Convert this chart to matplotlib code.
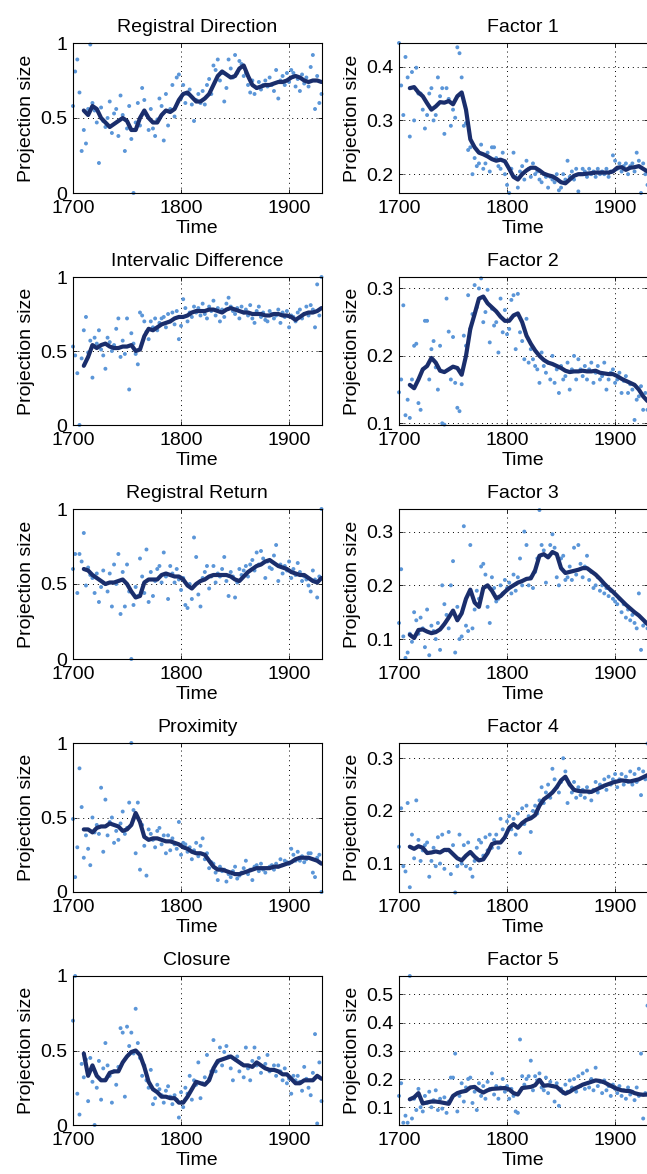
import numpy as np
import matplotlib
matplotlib.use("Agg")
import matplotlib.pyplot as plt
from matplotlib.ticker import FormatStrFormatter

# scatter values: one every 2 years, 1700..1930
# smoothed line: one every 4 years, 1710..1930
regdir_pts = [0.58, 0.81, 0.89, 0.67, 0.28, 0.42, 0.33, 0.56, 0.99, 0.60,
              0.55, 0.47, 0.20, 0.57, 0.48, 0.44, 0.50, 0.61, 0.40, 0.53,
              0.56, 0.38, 0.65, 0.52, 0.28, 0.43, 0.58, 0.36, 0.00, 0.47,
              0.60, 0.45, 0.70, 0.62, 0.52, 0.42, 0.56, 0.43, 0.38, 0.49,
              0.63, 0.58, 0.35, 0.66, 0.45, 0.56, 0.72, 0.51, 0.77, 0.79,
              0.63, 0.72, 0.60, 0.66, 0.69, 0.59, 0.48, 0.62, 0.66, 0.60,
              0.68, 0.59, 0.72, 0.76, 0.66, 0.85, 0.82, 0.89, 0.75, 0.80,
              0.61, 0.70, 0.89, 0.83, 0.77, 0.92, 0.80, 0.88, 0.86, 0.78,
              0.80, 0.72, 0.67, 0.75, 0.66, 0.70, 0.74, 0.69, 0.72, 0.75,
              0.71, 0.77, 0.72, 0.68, 0.82, 0.63, 0.75, 0.78, 0.72, 0.80,
              0.74, 0.82, 0.80, 0.71, 0.76, 0.68, 0.79, 0.73, 0.77, 0.71,
              0.84, 0.92, 0.56, 0.78, 0.60, 0.66]
regdir_line = [0.55, 0.52, 0.58, 0.56, 0.50, 0.47, 0.44, 0.46, 0.48, 0.50,
               0.48, 0.42, 0.42, 0.50, 0.55, 0.50, 0.47, 0.47, 0.52, 0.55,
               0.54, 0.56, 0.62, 0.66, 0.67, 0.64, 0.61, 0.61, 0.63, 0.66,
               0.72, 0.78, 0.81, 0.79, 0.77, 0.78, 0.83, 0.85, 0.78, 0.72,
               0.70, 0.71, 0.72, 0.72, 0.73, 0.74, 0.74, 0.75, 0.77, 0.78,
               0.77, 0.75, 0.74, 0.75, 0.75, 0.74]

intdiff_pts = [0.53, 0.47, 0.35, 0.00, 0.45, 0.64, 0.73, 0.49, 0.57, 0.32,
               0.59, 0.55, 0.64, 0.51, 0.47, 0.38, 0.59, 0.56, 0.50, 0.54,
               0.65, 0.72, 0.46, 0.57, 0.48, 0.72, 0.24, 0.62, 0.55, 0.48,
               0.41, 0.76, 0.74, 0.70, 0.63, 0.58, 0.70, 0.66, 0.72, 0.64,
               0.69, 0.72, 0.73, 0.66, 0.75, 0.70, 0.76, 0.68, 0.77, 0.58,
               0.67, 0.85, 0.79, 0.70, 0.76, 0.73, 0.80, 0.76, 0.79, 0.74,
               0.82, 0.75, 0.72, 0.80, 0.77, 0.84, 0.74, 0.79, 0.70, 0.78,
               0.73, 0.82, 0.86, 0.80, 0.77, 0.75, 0.79, 0.72, 0.80, 0.76,
               0.78, 0.74, 0.81, 0.72, 0.69, 0.77, 0.80, 0.73, 0.76, 0.71,
               0.70, 0.77, 0.75, 0.72, 0.74, 0.78, 0.69, 0.76, 0.73, 0.77,
               0.66, 0.74, 0.73, 0.70, 0.76, 0.78, 0.72, 0.75, 0.80, 0.74,
               0.81, 0.78, 0.66, 0.95, 0.74, 1.00]
intdiff_line = [0.40, 0.46, 0.54, 0.52, 0.54, 0.55, 0.53, 0.52, 0.52, 0.53,
                0.53, 0.54, 0.50, 0.51, 0.60, 0.65, 0.64, 0.66, 0.68, 0.69,
                0.70, 0.72, 0.73, 0.73, 0.74, 0.76, 0.77, 0.77, 0.77, 0.78,
                0.78, 0.77, 0.76, 0.78, 0.79, 0.78, 0.77, 0.76, 0.76, 0.75,
                0.75, 0.75, 0.74, 0.74, 0.75, 0.75, 0.74, 0.74, 0.73, 0.71,
                0.73, 0.75, 0.76, 0.76, 0.77, 0.79]

regret_pts = [0.60, 0.70, 0.44, 0.70, 0.65, 0.84, 0.49, 0.61, 0.56, 0.54,
              0.44, 0.57, 0.38, 0.48, 0.59, 0.50, 0.45, 0.57, 0.35, 0.63,
              0.50, 0.70, 0.30, 0.58, 0.35, 0.63, 0.45, 0.00, 0.36, 0.48,
              0.42, 0.67, 0.55, 0.44, 0.73, 0.38, 0.58, 0.42, 0.52, 0.60,
              0.62, 0.51, 0.71, 0.55, 0.40, 0.62, 0.57, 0.51, 0.60, 0.53,
              0.46, 0.54, 0.36, 0.34, 0.50, 0.40, 0.81, 0.68, 0.43, 0.35,
              0.54, 0.58, 0.62, 0.47, 0.55, 0.62, 0.51, 0.57, 0.55, 0.60,
              0.68, 0.52, 0.42, 0.58, 0.55, 0.41, 0.51, 0.60, 0.56, 0.59,
              0.62, 0.55, 0.63, 0.66, 0.59, 0.71, 0.63, 0.72, 0.67, 0.54,
              0.65, 0.61, 0.60, 0.69, 0.76, 0.52, 0.63, 0.57, 0.62, 0.59,
              0.65, 0.54, 0.60, 0.56, 0.64, 0.58, 0.52, 0.55, 0.53, 0.49,
              0.45, 0.59, 0.53, 0.41, 0.55, 1.00]
regret_line = [0.60, 0.59, 0.56, 0.54, 0.52, 0.50, 0.51, 0.51, 0.52, 0.53,
               0.50, 0.45, 0.41, 0.42, 0.51, 0.53, 0.53, 0.53, 0.56, 0.57,
               0.56, 0.55, 0.55, 0.53, 0.49, 0.47, 0.50, 0.52, 0.53, 0.55,
               0.56, 0.56, 0.56, 0.56, 0.55, 0.53, 0.52, 0.55, 0.58, 0.60,
               0.62, 0.63, 0.65, 0.66, 0.64, 0.62, 0.61, 0.60, 0.58, 0.57,
               0.56, 0.56, 0.54, 0.52, 0.51, 0.54]

prox_pts = [0.49, 0.10, 0.30, 0.83, 0.57, 0.23, 0.38, 0.29, 0.18, 0.50,
            0.40, 0.45, 0.39, 0.70, 0.27, 0.62, 0.38, 0.47, 0.50, 0.33,
            0.41, 0.35, 0.46, 0.54, 0.39, 0.43, 0.60, 1.00, 0.55, 0.26,
            0.60, 0.15, 0.45, 0.31, 0.11, 0.42, 0.39, 0.35, 0.30, 0.41,
            0.43, 0.32, 0.38, 0.26, 0.38, 0.28, 0.36, 0.32, 0.29, 0.47,
            0.25, 0.33, 0.32, 0.27, 0.30, 0.22, 0.28, 0.33, 0.24, 0.31,
            0.36, 0.22, 0.26, 0.16, 0.20, 0.19, 0.13, 0.08, 0.17, 0.14,
            0.15, 0.07, 0.12, 0.10, 0.14, 0.17, 0.09, 0.11, 0.13, 0.16,
            0.21, 0.12, 0.15, 0.08, 0.17, 0.18, 0.14, 0.19, 0.15, 0.13,
            0.16, 0.17, 0.18, 0.15, 0.19, 0.17, 0.22, 0.18, 0.21, 0.20,
            0.19, 0.29, 0.25, 0.21, 0.27, 0.21, 0.24, 0.20, 0.22, 0.26,
            0.26, 0.13, 0.10, 0.23, 0.25, 0.00]
prox_line = [0.42, 0.42, 0.40, 0.43, 0.44, 0.44, 0.46, 0.45, 0.44, 0.41,
             0.42, 0.45, 0.53, 0.47, 0.37, 0.35, 0.36, 0.36, 0.35, 0.34,
             0.34, 0.33, 0.32, 0.30, 0.29, 0.27, 0.26, 0.26, 0.25, 0.21,
             0.17, 0.15, 0.15, 0.14, 0.13, 0.12, 0.12, 0.13, 0.14, 0.15,
             0.16, 0.16, 0.16, 0.16, 0.17, 0.17, 0.18, 0.19, 0.20, 0.22,
             0.23, 0.23, 0.23, 0.22, 0.21, 0.19]

closure_pts = [0.70, 1.00, 0.21, 0.07, 0.41, 0.32, 0.44, 0.16, 0.45, 0.29,
               0.00, 0.25, 0.43, 0.17, 0.38, 0.55, 0.40, 0.33, 0.15, 0.36,
               0.27, 0.39, 0.65, 0.62, 0.19, 0.66, 0.53, 0.62, 0.48, 0.78,
               0.55, 0.45, 0.33, 0.40, 0.30, 0.25, 0.37, 0.14, 0.18, 0.27,
               0.24, 0.20, 0.15, 0.23, 0.26, 0.19, 0.14, 0.20, 0.17, 0.05,
               0.22, 0.12, 0.25, 0.21, 0.33, 0.17, 0.30, 0.27, 0.42, 0.18,
               0.28, 0.32, 0.47, 0.31, 0.36, 0.57, 0.36, 0.42, 0.52, 0.40,
               0.49, 0.53, 0.46, 0.38, 0.30, 0.44, 0.46, 0.36, 0.41, 0.32,
               0.52, 0.38, 0.30, 0.43, 0.52, 0.40, 0.45, 0.35, 0.39, 0.41,
               0.47, 0.36, 0.37, 0.40, 0.33, 0.40, 0.36, 0.30, 0.38, 0.28,
               0.31, 0.21, 0.33, 0.30, 0.33, 0.29, 0.23, 0.39, 0.31, 0.25,
               0.20, 0.35, 0.61, 0.01, 0.42, 0.16]
closure_line = [0.48, 0.33, 0.40, 0.33, 0.30, 0.30, 0.35, 0.36, 0.36, 0.42,
                0.46, 0.49, 0.50, 0.47, 0.39, 0.29, 0.24, 0.22, 0.19, 0.19,
                0.18, 0.18, 0.15, 0.15, 0.19, 0.24, 0.29, 0.28, 0.27, 0.30,
                0.38, 0.43, 0.44, 0.45, 0.46, 0.44, 0.42, 0.40, 0.40, 0.39,
                0.42, 0.40, 0.38, 0.37, 0.37, 0.36, 0.34, 0.34, 0.31, 0.28,
                0.28, 0.30, 0.30, 0.30, 0.33, 0.31]

f1_pts = [0.444, 0.365, 0.31, 0.418, 0.38, 0.27, 0.39, 0.30, 0.398, 0.35,
          0.35, 0.32, 0.285, 0.31, 0.35, 0.36, 0.30, 0.31, 0.38, 0.345,
          0.36, 0.275, 0.36, 0.34, 0.29, 0.32, 0.305, 0.436, 0.425, 0.38,
          0.29, 0.295, 0.245, 0.25, 0.20, 0.23, 0.215, 0.22, 0.255, 0.21,
          0.22, 0.24, 0.205, 0.25, 0.25, 0.23, 0.215, 0.21, 0.24, 0.20,
          0.18, 0.165, 0.21, 0.24, 0.195, 0.175, 0.205, 0.215, 0.19, 0.225,
          0.21, 0.195, 0.22, 0.20, 0.205, 0.19, 0.185, 0.20, 0.195, 0.175,
          0.195, 0.19, 0.185, 0.20, 0.17, 0.175, 0.20, 0.19, 0.225, 0.195,
          0.205, 0.19, 0.21, 0.168, 0.20, 0.21, 0.205, 0.195, 0.21, 0.20,
          0.205, 0.195, 0.21, 0.20, 0.205, 0.20, 0.21, 0.195, 0.205, 0.235,
          0.225, 0.21, 0.22, 0.205, 0.215, 0.22, 0.20, 0.215, 0.22, 0.205,
          0.24, 0.225, 0.165, 0.22, 0.20, 0.18]
f1_line = [0.360, 0.362, 0.352, 0.345, 0.332, 0.320, 0.326, 0.334, 0.333, 0.336,
           0.330, 0.345, 0.352, 0.320, 0.265, 0.250, 0.240, 0.237, 0.233, 0.228,
           0.225, 0.227, 0.224, 0.210, 0.195, 0.190, 0.200, 0.207, 0.212, 0.212,
           0.207, 0.201, 0.198, 0.196, 0.191, 0.185, 0.183, 0.190, 0.197, 0.200,
           0.200, 0.201, 0.202, 0.203, 0.203, 0.203, 0.203, 0.205, 0.212, 0.213,
           0.208, 0.212, 0.213, 0.215, 0.210, 0.205]

f2_pts = [0.146, 0.165, 0.275, 0.112, 0.135, 0.108, 0.165, 0.215, 0.218, 0.13,
          0.12, 0.18, 0.252, 0.252, 0.165, 0.21, 0.222, 0.183, 0.15, 0.215,
          0.10, 0.098, 0.285, 0.236, 0.165, 0.228, 0.16, 0.123, 0.118, 0.158,
          0.23, 0.215, 0.29, 0.24, 0.262, 0.305, 0.272, 0.30, 0.315, 0.25,
          0.265, 0.298, 0.22, 0.27, 0.245, 0.25, 0.205, 0.285, 0.235, 0.268,
          0.232, 0.24, 0.283, 0.29, 0.21, 0.292, 0.235, 0.222, 0.195, 0.255,
          0.19, 0.21, 0.195, 0.185, 0.18, 0.16, 0.205, 0.185, 0.175, 0.19,
          0.165, 0.20, 0.16, 0.18, 0.145, 0.185, 0.165, 0.17, 0.19, 0.15,
          0.18, 0.20, 0.165, 0.195, 0.18, 0.17, 0.185, 0.165, 0.18, 0.19,
          0.16, 0.175, 0.185, 0.165, 0.17, 0.19, 0.15, 0.165, 0.175, 0.18,
          0.16, 0.165, 0.175, 0.145, 0.163, 0.17, 0.145, 0.158, 0.15, 0.105,
          0.135, 0.14, 0.155, 0.12, 0.145, 0.12]
f2_line = [0.157, 0.152, 0.165, 0.180, 0.185, 0.197, 0.190, 0.178, 0.176, 0.180,
           0.184, 0.182, 0.172, 0.200, 0.240, 0.262, 0.285, 0.288, 0.278, 0.272,
           0.266, 0.258, 0.252, 0.252, 0.260, 0.263, 0.250, 0.230, 0.218, 0.208,
           0.200, 0.194, 0.190, 0.188, 0.185, 0.182, 0.178, 0.176, 0.177, 0.177,
           0.178, 0.177, 0.177, 0.178, 0.175, 0.174, 0.173, 0.173, 0.170, 0.166,
           0.163, 0.160, 0.157, 0.150, 0.140, 0.133]

f3_pts = [0.13, 0.23, 0.105, 0.065, 0.075, 0.11, 0.095, 0.15, 0.135, 0.11,
          0.14, 0.12, 0.085, 0.155, 0.07, 0.125, 0.115, 0.10, 0.13, 0.08,
          0.20, 0.165, 0.145, 0.12, 0.20, 0.245, 0.075, 0.16, 0.10, 0.105,
          0.31, 0.125, 0.115, 0.275, 0.12, 0.155, 0.19, 0.175, 0.235, 0.24,
          0.22, 0.16, 0.13, 0.215, 0.195, 0.17, 0.175, 0.20, 0.185, 0.21,
          0.195, 0.205, 0.185, 0.22, 0.19, 0.215, 0.25, 0.20, 0.30, 0.275,
          0.20, 0.215, 0.195, 0.225, 0.25, 0.34, 0.275, 0.265, 0.205, 0.255,
          0.275, 0.295, 0.27, 0.215, 0.20, 0.25, 0.255, 0.21, 0.215, 0.235,
          0.21, 0.27, 0.22, 0.275, 0.24, 0.215, 0.235, 0.255, 0.21, 0.225,
          0.195, 0.20, 0.215, 0.19, 0.20, 0.185, 0.195, 0.18, 0.19, 0.175,
          0.17, 0.165, 0.175, 0.15, 0.165, 0.14, 0.155, 0.135, 0.145, 0.13,
          0.12, 0.185, 0.08, 0.125, 0.13, 0.12]
f3_line = [0.108, 0.102, 0.117, 0.118, 0.114, 0.111, 0.113, 0.118, 0.128, 0.140,
           0.153, 0.135, 0.148, 0.175, 0.192, 0.168, 0.160, 0.195, 0.200, 0.190,
           0.176, 0.180, 0.188, 0.195, 0.200, 0.205, 0.208, 0.212, 0.213, 0.228,
           0.255, 0.258, 0.252, 0.262, 0.258, 0.232, 0.223, 0.225, 0.227, 0.229,
           0.232, 0.232, 0.226, 0.220, 0.212, 0.203, 0.195, 0.188, 0.180, 0.172,
           0.164, 0.157, 0.150, 0.144, 0.136, 0.128]

f4_pts = [0.132, 0.205, 0.095, 0.085, 0.215, 0.055, 0.155, 0.11, 0.22, 0.145,
          0.105, 0.125, 0.135, 0.14, 0.075, 0.105, 0.13, 0.095, 0.15, 0.10,
          0.155, 0.09, 0.125, 0.16, 0.08, 0.135, 0.045, 0.095, 0.155, 0.10,
          0.135, 0.095, 0.14, 0.09, 0.075, 0.105, 0.13, 0.145, 0.14, 0.115,
          0.15, 0.125, 0.155, 0.13, 0.145, 0.155, 0.13, 0.185, 0.165, 0.15,
          0.18, 0.19, 0.165, 0.185, 0.155, 0.195, 0.12, 0.205, 0.175, 0.21,
          0.19, 0.16, 0.20, 0.21, 0.195, 0.22, 0.245, 0.215, 0.235, 0.25,
          0.225, 0.28, 0.26, 0.245, 0.235, 0.255, 0.30, 0.275, 0.215, 0.25,
          0.235, 0.255, 0.225, 0.245, 0.23, 0.24, 0.225, 0.245, 0.235, 0.22,
          0.24, 0.255, 0.235, 0.25, 0.245, 0.26, 0.24, 0.265, 0.25, 0.26,
          0.27, 0.245, 0.26, 0.27, 0.25, 0.265, 0.255, 0.275, 0.25, 0.27,
          0.255, 0.28, 0.23, 0.275, 0.26, 0.328]
f4_line = [0.132, 0.128, 0.133, 0.130, 0.120, 0.121, 0.123, 0.121, 0.126, 0.126,
           0.118, 0.110, 0.106, 0.115, 0.122, 0.113, 0.106, 0.108, 0.120, 0.137,
           0.140, 0.140, 0.150, 0.168, 0.175, 0.168, 0.177, 0.183, 0.186, 0.192,
           0.210, 0.222, 0.228, 0.235, 0.245, 0.258, 0.265, 0.250, 0.240, 0.238,
           0.237, 0.237, 0.236, 0.240, 0.244, 0.248, 0.251, 0.254, 0.256, 0.258,
           0.257, 0.256, 0.258, 0.260, 0.264, 0.268]

f5_pts = [0.14, 0.185, 0.045, 0.07, 0.045, 0.565, 0.06, 0.13, 0.09, 0.165,
          0.10, 0.085, 0.14, 0.115, 0.155, 0.10, 0.125, 0.16, 0.09, 0.13,
          0.095, 0.135, 0.08, 0.12, 0.205, 0.205, 0.29, 0.085, 0.14, 0.185,
          0.12, 0.17, 0.20, 0.205, 0.115, 0.155, 0.09, 0.185, 0.14, 0.175,
          0.13, 0.19, 0.165, 0.22, 0.145, 0.175, 0.13, 0.17, 0.20, 0.155,
          0.175, 0.13, 0.165, 0.14, 0.085, 0.08, 0.34, 0.21, 0.18, 0.20,
          0.21, 0.265, 0.16, 0.21, 0.195, 0.22, 0.17, 0.16, 0.205, 0.15,
          0.19, 0.175, 0.12, 0.185, 0.105, 0.165, 0.15, 0.18, 0.155, 0.195,
          0.17, 0.20, 0.155, 0.21, 0.175, 0.22, 0.165, 0.23, 0.17, 0.20,
          0.16, 0.24, 0.175, 0.19, 0.15, 0.195, 0.16, 0.175, 0.14, 0.18,
          0.165, 0.15, 0.175, 0.14, 0.16, 0.13, 0.17, 0.145, 0.155, 0.125,
          0.17, 0.14, 0.29, 0.06, 0.15, 0.46]
f5_line = [0.128, 0.135, 0.150, 0.113, 0.117, 0.120, 0.120, 0.118, 0.115, 0.112,
           0.140, 0.150, 0.155, 0.158, 0.170, 0.172, 0.160, 0.152, 0.160, 0.165,
           0.166, 0.167, 0.168, 0.163, 0.150, 0.145, 0.168, 0.170, 0.172, 0.178,
           0.197, 0.176, 0.178, 0.175, 0.172, 0.158, 0.148, 0.155, 0.165, 0.172,
           0.180, 0.185, 0.190, 0.195, 0.193, 0.188, 0.180, 0.172, 0.165, 0.160,
           0.158, 0.157, 0.150, 0.146, 0.144, 0.145]

left_titles = ["Registral Direction", "Intervalic Difference", "Registral Return",
               "Proximity", "Closure"]
right_titles = ["Factor 1", "Factor 2", "Factor 3", "Factor 4", "Factor 5"]

left_data = [(regdir_pts, regdir_line), (intdiff_pts, intdiff_line),
             (regret_pts, regret_line), (prox_pts, prox_line),
             (closure_pts, closure_line)]
right_data = [(f1_pts, f1_line), (f2_pts, f2_line), (f3_pts, f3_line),
              (f4_pts, f4_line), (f5_pts, f5_line)]

right_ylims = [(0.165, 0.444), (0.0975, 0.317), (0.063, 0.342), (0.046, 0.329), (0.037, 0.565)]
right_yticks = [[0.2, 0.3, 0.4], [0.1, 0.2, 0.3], [0.1, 0.2, 0.3], [0.1, 0.2, 0.3],
                [0.1, 0.2, 0.3, 0.4, 0.5]]

plt.rcParams['font.family'] = ['Liberation Sans', 'DejaVu Sans']
plt.rcParams['font.size'] = 14

W, H = 647, 1174
fig = plt.figure(figsize=(W / 100, H / 100), dpi=100)

# axes boxes in pixels (top, bottom)
row_px = [(43, 193), (277, 425), (509, 659), (743, 892), (976, 1125)]
col_x = [73, 399]
ax_w = 248.5

dot_color = "#5b96d8"
line_color = "#1a2e6c"


def draw(ax, pts, line, title, ylim, yticks):
    px = np.linspace(1700, 1930, len(pts))
    lx = np.linspace(1710, 1930, len(line))
    ax.scatter(px, pts, s=8, color=dot_color, edgecolors="none", zorder=2, clip_on=False)
    ax.plot(lx, line, color=line_color, lw=3.0, zorder=3, solid_capstyle="round")
    ax.set_xlim(1700, 1930)
    ax.set_ylim(*ylim)
    ax.set_xticks([1700, 1800, 1900])
    ax.set_yticks(yticks)
    ax.yaxis.set_major_formatter(FormatStrFormatter("%g"))
    ax.grid(True, linestyle=(0, (1, 4)), color="black", linewidth=0.7)
    ax.tick_params(direction="in", length=3, width=0.6, top=True, right=True)
    ax.tick_params(axis="x", pad=5)
    ax.tick_params(axis="y", pad=4)
    for s in ax.spines.values():
        s.set_linewidth(0.8)
    ax.set_title(title, fontsize=14, pad=8)
    ax.set_xlabel("Time", labelpad=2)
    ax.set_ylabel("Projection size", labelpad=4)


for i, (top, bot) in enumerate(row_px):
    for c in range(2):
        rect = [col_x[c] / W, 1 - bot / H, ax_w / W, (bot - top) / H]
        ax = fig.add_axes(rect)
        if c == 0:
            pts, line = left_data[i]
            draw(ax, pts, line, left_titles[i], (0, 1), [0, 0.5, 1])
        else:
            pts, line = right_data[i]
            draw(ax, pts, line, right_titles[i], right_ylims[i], right_yticks[i])

fig.savefig("out.png", dpi=100)
